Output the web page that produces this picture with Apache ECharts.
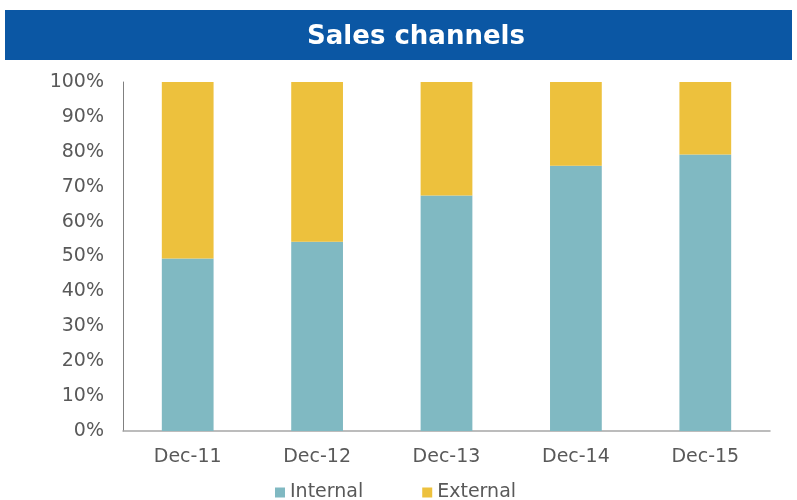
<!DOCTYPE html>
<html><head><meta charset="utf-8">
<script src="https://cdn.jsdelivr.net/npm/echarts@6/dist/echarts.min.js"></script>
<style>html,body{margin:0;padding:0;background:#fff}#c{width:797px;height:500px}</style>
</head><body><div id="c"></div>
<script>
const categories = ['Dec-11','Dec-12','Dec-13','Dec-14','Dec-15'];
const internal = [49.4, 54.2, 67.5, 76.0, 79.2];
const external = [50.6, 45.8, 32.5, 24.0, 20.8];
const yTicks = [0,10,20,30,40,50,60,70,80,90,100];

const chart = echarts.init(document.getElementById('c'), null, {renderer:'canvas'});
const font = 'DejaVu Sans, Verdana, sans-serif';
chart.setOption({
  animation:false,
  graphic:[{type:'rect', left:5, top:10, shape:{width:787, height:50}, style:{fill:'#0B57A4'}, z:-1}],
  title:{text:'Sales channels', top:19, left:411, textAlign:'center',
    textStyle:{color:'#fff', fontFamily:font, fontWeight:'bold', fontSize:26}},
  grid:{left:123, right:27, top:82, bottom:69},
  legend:{top:478, left:270, itemWidth:10, itemHeight:10, itemGap:59, icon:'rect',
    textStyle:{color:'#595959', fontFamily:font, fontSize:19},
    data:['Internal','External']},
  xAxis:{type:'category', data:categories,
    axisLine:{lineStyle:{color:'#a6a6a6', width:1.5}}, axisTick:{show:false},
    axisLabel:{color:'#595959', fontFamily:font, fontSize:19, margin:17}},
  yAxis:{type:'value', min:0, max:100, interval:10,
    axisLine:{show:true, lineStyle:{color:'#808080'}}, axisTick:{show:false},
    splitLine:{show:false},
    axisLabel:{color:'#595959', fontFamily:font, fontSize:19, margin:19,
      formatter:v=> yTicks.includes(v) ? v+'%' : ''}},
  series:[
    {name:'Internal', type:'bar', stack:'s', data:internal, barWidth:'40%',
      itemStyle:{color:'#80B9C2'}},
    {name:'External', type:'bar', stack:'s', data:external, barWidth:'40%',
      itemStyle:{color:'#EDC13D'}}
  ]
});
</script></body></html>
